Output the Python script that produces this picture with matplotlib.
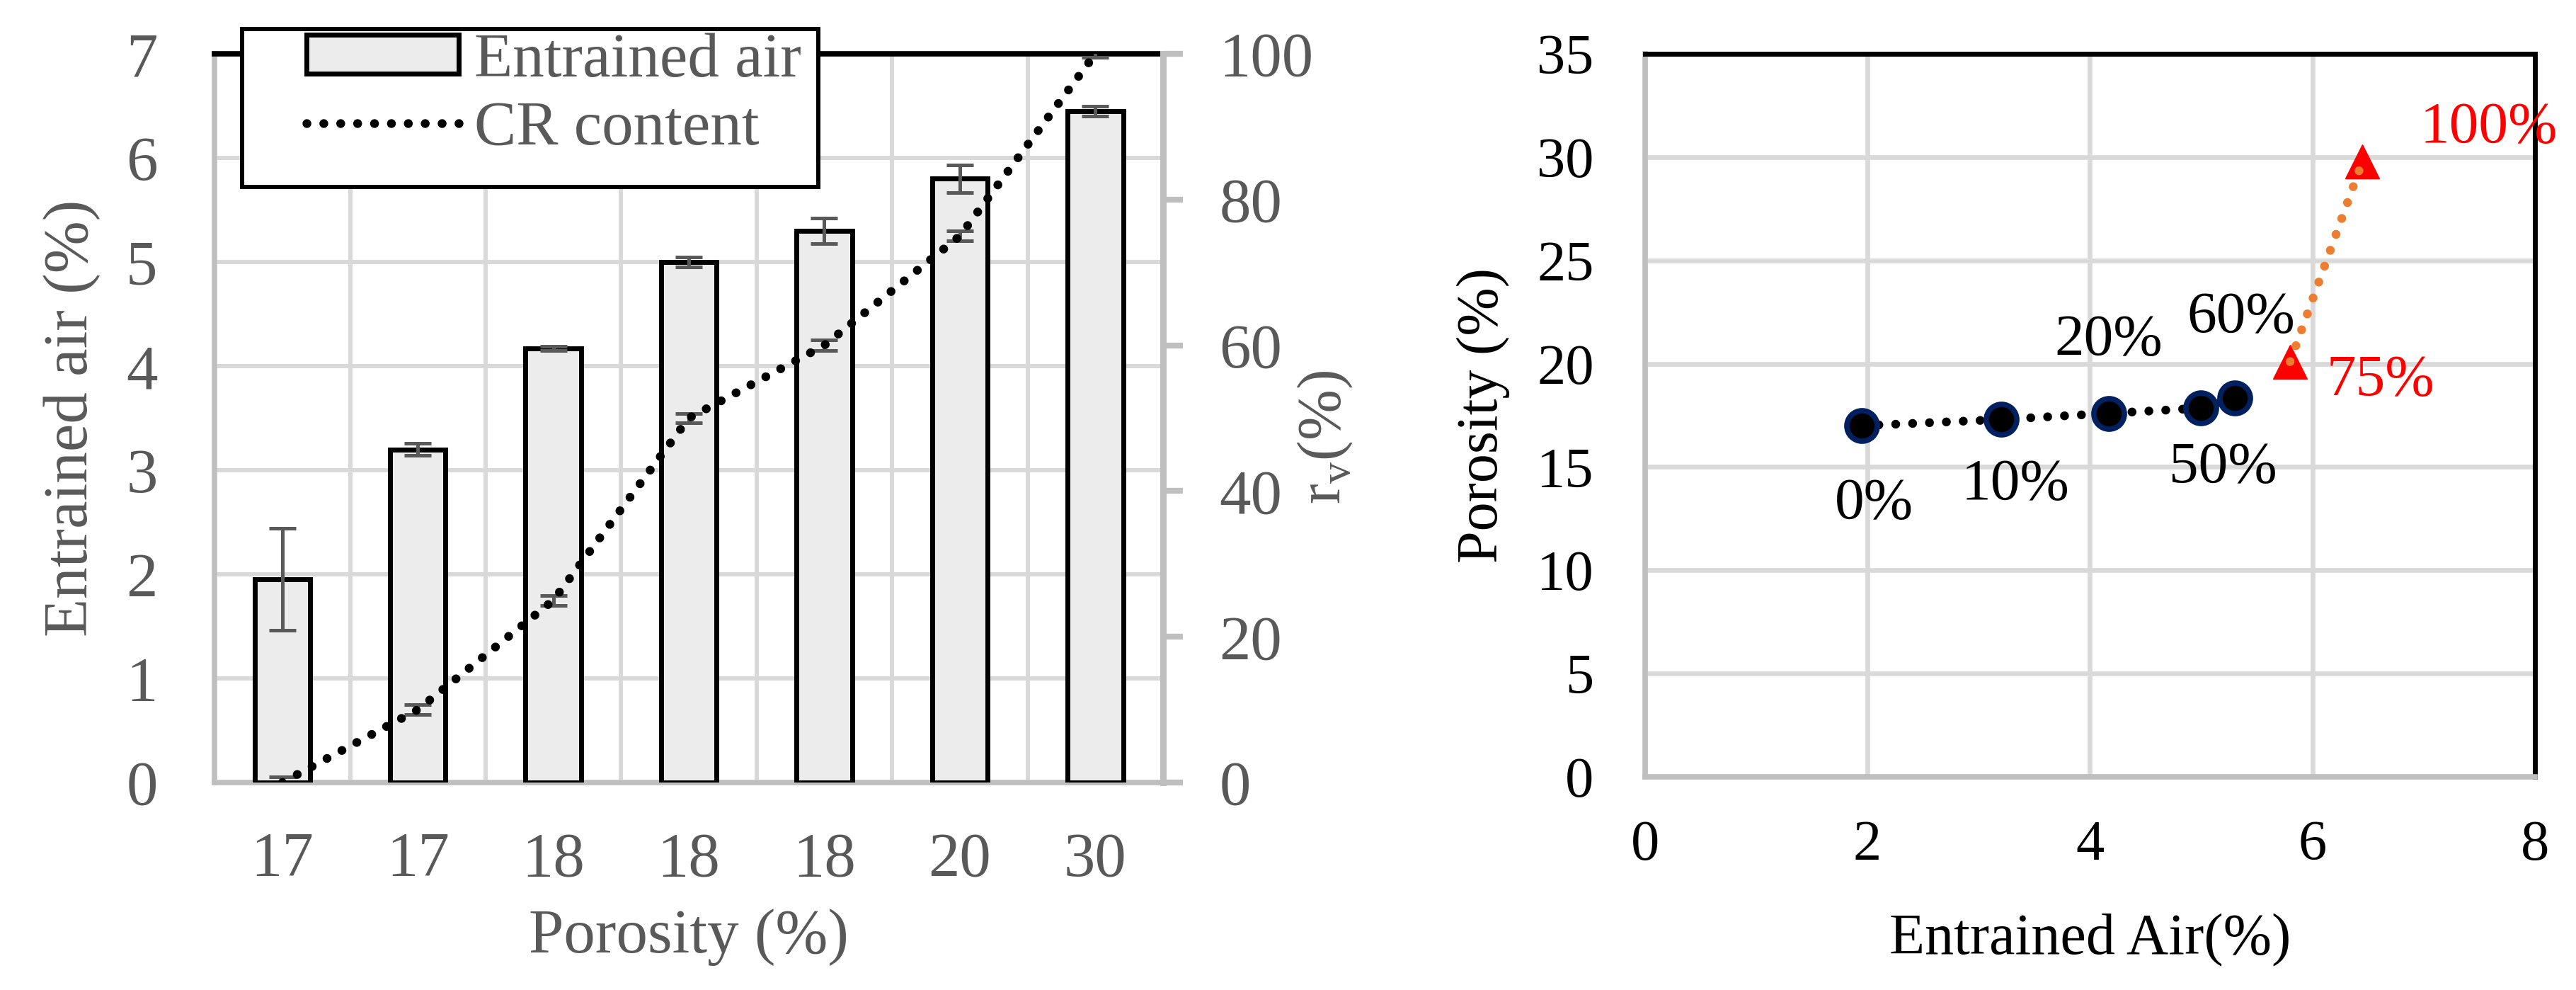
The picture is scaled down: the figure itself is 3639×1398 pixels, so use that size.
import matplotlib.pyplot as plt
from matplotlib.patches import Rectangle
import numpy as np

plt.rcParams['font.family'] = ['Liberation Serif', 'DejaVu Serif']
plt.rcParams['mathtext.fontset'] = 'custom'
plt.rcParams['mathtext.rm'] = 'Liberation Serif'

# left chart data
porosity_labels = ["17", "17", "18", "18", "18", "20", "30"]
entrained_air = [1.95, 3.2, 4.17, 5.0, 5.3, 5.8, 6.45]
air_err = [0.49, 0.06, 0.02, 0.05, 0.12, 0.13, 0.05]
cr_content = [0, 10, 25, 50, 60, 75, 100]
cr_err = [0.8, 0.7, 0.7, 0.6, 0.7, 0.7, 0.5]

# right chart data
air_low = [1.95, 3.2, 4.17, 5.0, 5.3]
por_low = [17.0, 17.3, 17.6, 17.85, 18.35]
air_high = [5.8, 6.45]
por_high = [20.1, 29.8]
pt_labels = ["0%", "10%", "20%", "50%", "60%", "75%", "100%"]
label_xy = [(2.06, 13.2), (3.33, 14.1), (4.17, 21.1), (5.2, 14.95),
            (5.36, 22.2), (6.61, 19.15), (7.59, 31.4)]
label_colors = ["black"] * 5 + ["red"] * 2

GREY_TXT = "#595959"
GRID = "#d9d9d9"
AXIS = "#bfbfbf"
FS_L = 64
FS_R = 59
DOT = (0, (0.01, 1.9))

fig = plt.figure(figsize=(36.39, 13.98), dpi=100)

# ---------------- left: bars + CR content ----------------
ax = fig.add_axes([0.0833, 0.2096, 0.3682, 0.736])
x = np.arange(len(entrained_air))
ax.bar(x, entrained_air, 0.41, color="#ececec", edgecolor="black",
       linewidth=5, zorder=3, label="Entrained air")
ax.errorbar(x, entrained_air, yerr=air_err, fmt="none", ecolor=GREY_TXT,
            elinewidth=3.6, capsize=13.5, capthick=3.6, zorder=4)
ax.set_xlim(-0.5, 6.5)
ax.set_ylim(0, 7)
ax.set_yticks(range(8))
ax.set_xticks(x)
ax.set_xticklabels(porosity_labels)
ax.set_xticks(np.arange(-0.5, 7, 1), minor=True)
ax.grid(True, which="minor", axis="x", color=GRID, lw=4.3, zorder=0)
ax.grid(True, which="major", axis="y", color=GRID, lw=4.3, zorder=0)
ax.tick_params(axis="both", which="both", length=0, labelsize=FS_L,
               colors=GREY_TXT)
ax.tick_params(axis="x", pad=50)
ax.tick_params(axis="y", pad=58)
for s in ["left", "bottom", "right"]:
    ax.spines[s].set_color(AXIS)
    ax.spines[s].set_linewidth(5.5)
ax.spines["top"].set_color("black")
ax.spines["top"].set_linewidth(5.5)
ax.set_xlabel("Porosity (%)", fontsize=FS_L, color=GREY_TXT, labelpad=20)
ax.set_ylabel("Entrained air (%)", fontsize=FS_L, color=GREY_TXT,
              labelpad=26)

ax2 = ax.twinx()
ax2.errorbar(x, cr_content, yerr=cr_err, fmt="none", ecolor=GREY_TXT,
             elinewidth=3.6, capsize=13.5, capthick=3.6, zorder=4)
ax2.plot(x, cr_content, color="black", ls=DOT, lw=9,
         dash_capstyle="round", label="CR content", zorder=5)
ax2.set_ylim(0, 100)
ax2.set_yticks([0, 20, 40, 60, 80, 100])
ax2.tick_params(axis="y", length=20, width=6, color=AXIS, labelsize=FS_L,
                labelcolor=GREY_TXT, pad=37)
for s in ["left", "bottom", "top"]:
    ax2.spines[s].set_visible(False)
ax2.spines["right"].set_color(AXIS)
ax2.spines["right"].set_linewidth(6.5)
ax2.set_ylabel(r"r$_\mathregular{v}$(%)", fontsize=62, color=GREY_TXT)
ax2.yaxis.set_label_coords(1.14, 0.474)

# legend: frame drawn by hand, Excel style (wide left padding)
frame = Rectangle((342 / 3639, 1 - 264 / 1398), (1156 - 342) / 3639,
                  (264 - 41) / 1398, transform=fig.transFigure,
                  facecolor="white", edgecolor="black", lw=4.3,
                  clip_on=False, zorder=9)
ax2.add_patch(frame)
h1, l1 = ax.get_legend_handles_labels()
h2, l2 = ax2.get_legend_handles_labels()
leg = ax2.legend(h1 + h2, l1 + l2, loc="upper left",
                 bbox_to_anchor=(433 / 3639, 1 - 46 / 1398),
                 bbox_transform=fig.transFigure, fontsize=FS_L,
                 frameon=False, labelcolor=GREY_TXT, handlelength=2.42,
                 handleheight=0.57, borderpad=0, labelspacing=0.16,
                 handletextpad=0.25, borderaxespad=0)
leg.set_zorder(10)

# ---------------- right: porosity vs entrained air ----------------
bx = fig.add_axes([0.6386, 0.2153, 0.3454, 0.7303])
bx.plot(air_low, por_low, color="black", ls=DOT, lw=9,
        dash_capstyle="round", zorder=3)
bx.plot(air_low, por_low, "o", ms=31, mfc="black", mec="#002060", mew=5.5,
        ls="none", zorder=4)
bx.plot(air_high, por_high, "^", ms=35, color="red", ls="none", zorder=3)
bx.plot(air_high, por_high, color="#ed7d31", ls=DOT, lw=9,
        dash_capstyle="round", zorder=4)
for t, (lx, ly), c in zip(pt_labels, label_xy, label_colors):
    bx.text(lx, ly, t, fontsize=60, color=c, ha="center", va="center",
            zorder=6, clip_on=False)
bx.set_xlim(0, 8)
bx.set_ylim(0, 35)
bx.set_xticks([0, 2, 4, 6, 8])
bx.set_yticks(np.arange(0, 36, 5))
bx.grid(True, color=GRID, lw=4.8, zorder=0)
bx.tick_params(axis="both", length=0, labelsize=58, colors="black")
bx.tick_params(axis="x", pad=44)
bx.tick_params(axis="y", pad=52)
for s in ["left", "bottom"]:
    bx.spines[s].set_color(AXIS)
    bx.spines[s].set_linewidth(5.5)
for s in ["top", "right"]:
    bx.spines[s].set_color("black")
    bx.spines[s].set_linewidth(5)
bx.set_xlabel("Entrained Air(%)", fontsize=FS_R, labelpad=42)
bx.set_ylabel("Porosity (%)", fontsize=FS_R, labelpad=27)

fig.savefig("out.png", dpi=100)
